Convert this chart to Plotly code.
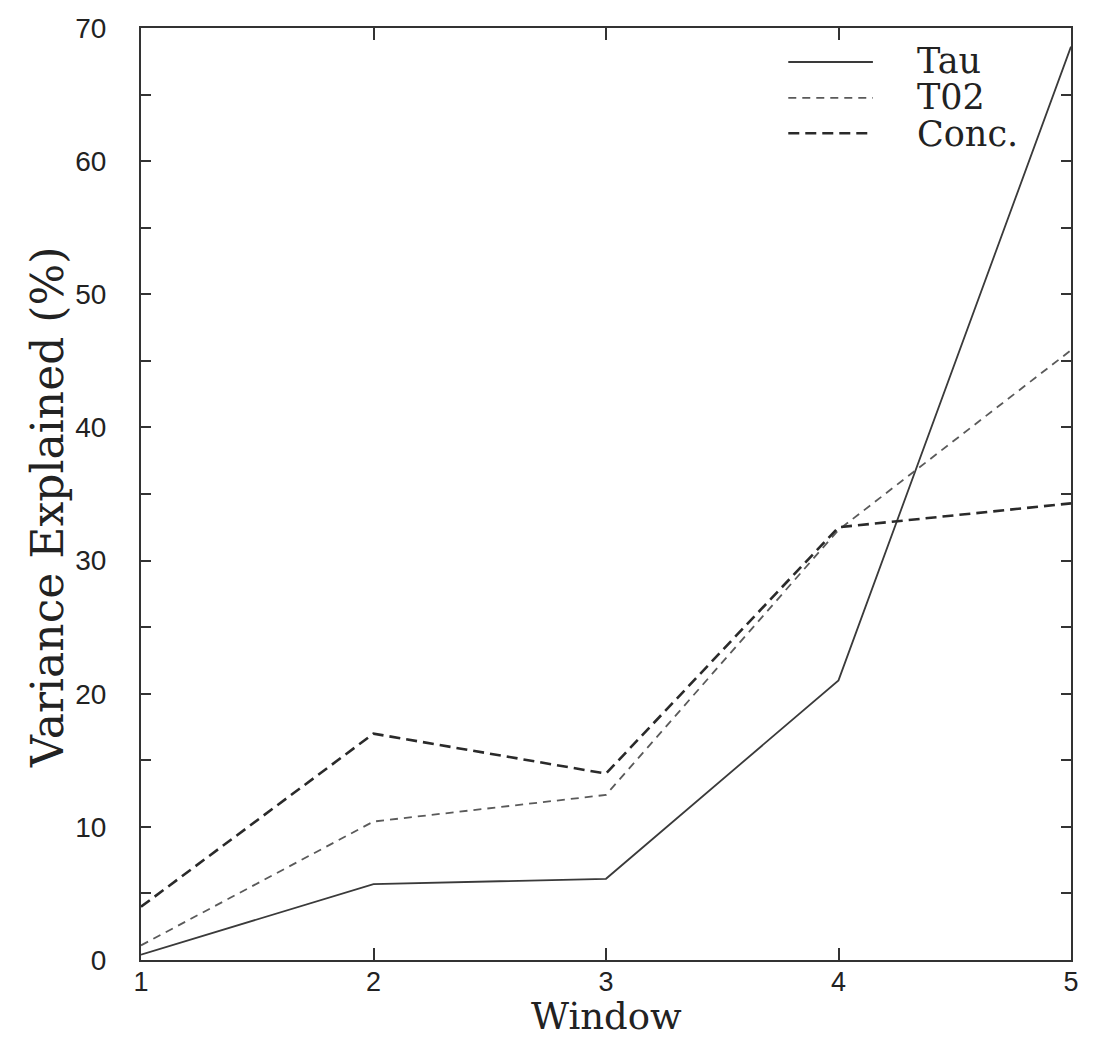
import plotly.graph_objects as go

windows = [1, 2, 3, 4, 5]
tau = [0.4, 5.7, 6.1, 21.0, 68.6]
t02 = [1.1, 10.4, 12.4, 32.3, 45.8]
conc = [4.0, 17.0, 14.0, 32.5, 34.3]

series_names = ["Tau", "T02", "Conc."]
y_ticks = [0, 10, 20, 30, 40, 50, 60, 70]

line_col = "#333333"
serif = "DejaVu Serif"
sans = "Liberation Sans"

styles = {
    "Tau": dict(color="#3a3a3a", width=1.8, dash="solid"),
    "T02": dict(color="#5a5a5a", width=1.8, dash="8px,6px"),
    "Conc.": dict(color="#2a2a2a", width=2.6, dash="11px,6px"),
}

fig = go.Figure()
for name, vals in zip(series_names, [tau, t02, conc]):
    fig.add_trace(go.Scatter(x=windows, y=vals, mode="lines", name=name,
                             line=styles[name], showlegend=False))

# custom legend (paper coordinates)
leg_y = [0.9635, 0.925, 0.887]
for name, ly in zip(series_names, leg_y):
    fig.add_shape(type="line", xref="paper", yref="paper",
                  x0=0.696, x1=0.787, y0=ly, y1=ly, line=styles[name])
legend_text = "<br>".join(f"<span style='font-size:35px'>{n}</span>" for n in series_names)
fig.add_annotation(xref="paper", yref="paper", x=0.832, y=0.925,
                   text=legend_text, showarrow=False,
                   xanchor="left", yanchor="middle", align="left",
                   font=dict(family=serif, size=28, color="#222"))

# axis titles
fig.add_annotation(xref="paper", yref="paper", x=0.501, y=-0.061, text="Window",
                   showarrow=False, xanchor="center", yanchor="middle",
                   font=dict(family=serif, size=37, color="#222"))
fig.add_annotation(xref="paper", yref="paper", x=-0.100, y=0.485,
                   text="Variance Explained (%)", textangle=-90,
                   showarrow=False, xanchor="center", yanchor="middle",
                   font=dict(family=serif, size=44, color="#222"))

fig.update_layout(
    width=1112, height=1034,
    margin=dict(l=133, r=49, t=20, b=82),
    paper_bgcolor="white", plot_bgcolor="white",
    showlegend=False,
)
fig.update_xaxes(
    range=[1, 5], tickvals=windows, ticktext=[str(w) for w in windows],
    showgrid=False, zeroline=False, automargin=False,
    showline=True, linecolor=line_col, linewidth=2, mirror="ticks",
    ticks="inside", ticklen=12, tickwidth=1.5, tickcolor=line_col,
    tickfont=dict(family=sans, size=27, color="#222"),
    ticklabelstandoff=-3,
)
fig.update_yaxes(
    range=[0, 70], tickvals=y_ticks,
    showgrid=False, zeroline=False, automargin=False,
    showline=True, linecolor=line_col, linewidth=2, mirror="ticks",
    ticks="inside", ticklen=10, tickwidth=1.5, tickcolor=line_col,
    minor=dict(dtick=5, ticks="inside", ticklen=10, tickwidth=1.5, tickcolor=line_col),
    tickfont=dict(family=sans, size=28, color="#222"),
    ticklabelstandoff=27,
)

fig.write_html("out.html")
